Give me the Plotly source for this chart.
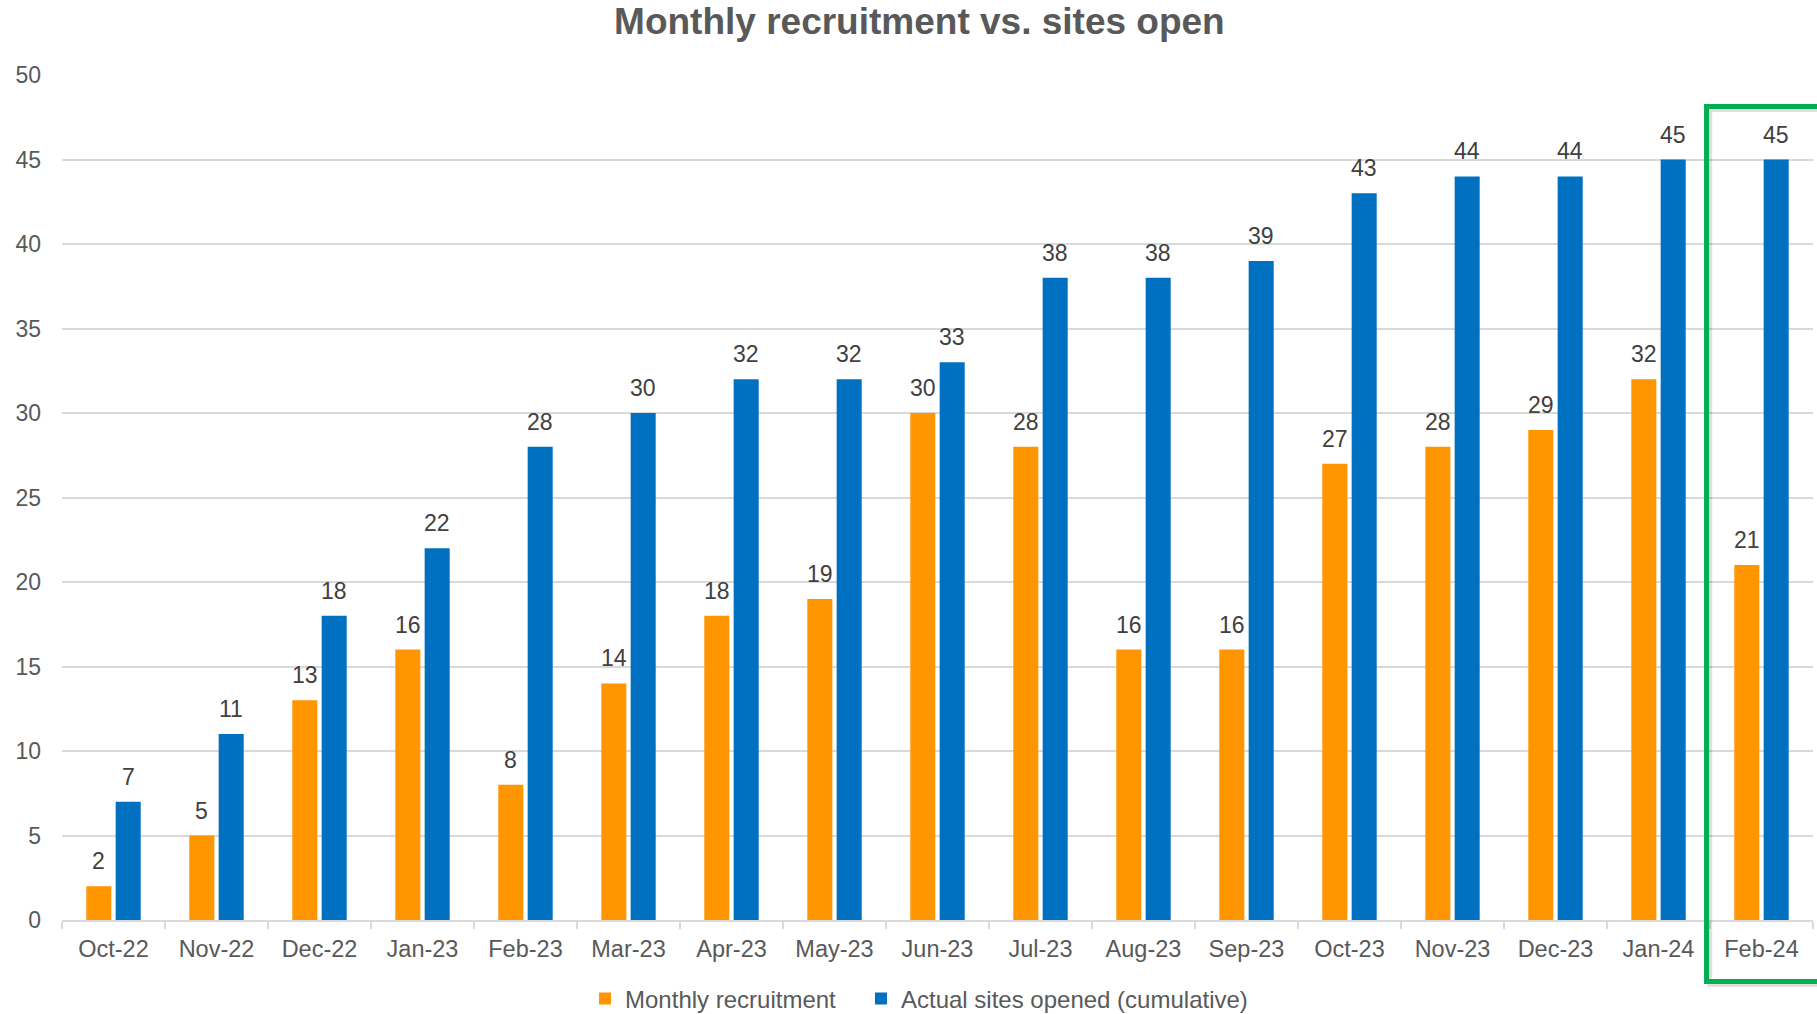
import plotly.graph_objects as go

months = ["Oct-22", "Nov-22", "Dec-22", "Jan-23", "Feb-23", "Mar-23", "Apr-23", "May-23",
          "Jun-23", "Jul-23", "Aug-23", "Sep-23", "Oct-23", "Nov-23", "Dec-23", "Jan-24", "Feb-24"]
monthly_recruitment = [2, 5, 13, 16, 8, 14, 18, 19, 30, 28, 16, 16, 27, 28, 29, 32, 21]
sites_opened = [7, 11, 18, 22, 28, 30, 32, 32, 33, 38, 38, 39, 43, 44, 44, 45, 45]
y_ticks = [0, 5, 10, 15, 20, 25, 30, 35, 40, 45, 50]

FONT = "Arial, 'Liberation Sans', sans-serif"
GRID = "#D9D9D9"
LABEL_COLOR = "#404040"
TEXT_COLOR = "#595959"

W, H = 1817, 1014
M_L, M_R, M_T, M_B = 62, 4, 75, 94
BARGAP = 0.43
BARGROUPGAP = 0.147

fig = go.Figure()
fig.add_trace(go.Bar(
    x=months, y=monthly_recruitment, name="Monthly recruitment",
    marker=dict(color="#FF9600", line=dict(width=0)), legend="legend",
))
fig.add_trace(go.Bar(
    x=months, y=sites_opened, name="Actual sites opened (cumulative)",
    marker=dict(color="#0070C0", line=dict(width=0)), legend="legend2",
))

# value labels above each bar, offset to the centre of the bar within its group
cat_px = (W - M_L - M_R) / len(months)
slot_px = (1 - BARGAP) * cat_px / 2
for series, sign in ((monthly_recruitment, -1), (sites_opened, 1)):
    for m, v in zip(months, series):
        fig.add_annotation(x=m, y=v, xref="x", yref="y", text=str(v), showarrow=False,
                           xanchor="center", yanchor="bottom", xshift=sign * slot_px / 2, yshift=10,
                           font=dict(size=23, color=LABEL_COLOR, family=FONT))

legend_style = dict(orientation="h", xanchor="left", yref="container", y=0.0148, yanchor="middle",
                    font=dict(size=24, color=TEXT_COLOR, family=FONT), itemwidth=30)

fig.update_layout(
    width=W, height=H,
    margin=dict(l=M_L, r=M_R, t=M_T, b=M_B, autoexpand=False),
    paper_bgcolor="white", plot_bgcolor="white",
    barmode="group", bargap=BARGAP, bargroupgap=BARGROUPGAP,
    font=dict(family=FONT, color=TEXT_COLOR, size=23),
    title=dict(text="<b>Monthly recruitment vs. sites open</b>",
               font=dict(size=37, color=TEXT_COLOR, family=FONT),
               xref="container", x=0.506, xanchor="center",
               yref="container", y=0.979, yanchor="middle"),
    showlegend=True,
    legend=dict(x=0.2987, **legend_style),
    legend2=dict(x=0.4563, **legend_style),
    xaxis=dict(showline=True, linecolor=GRID, linewidth=1.5, automargin=False,
               ticks="outside", tickson="boundaries", ticklen=7, tickcolor=GRID, tickwidth=1.5,
               ticklabelstandoff=7,
               tickfont=dict(size=23.5, color=TEXT_COLOR), showgrid=False),
    yaxis=dict(range=[0, 50], tickvals=y_ticks, showgrid=True, gridcolor=GRID, gridwidth=1.5,
               zeroline=False, showline=False, ticks="", ticklabelstandoff=20, automargin=False,
               tickfont=dict(size=23, color=TEXT_COLOR)),
)

# highlight box around latest month (with soft shadow)
fig.add_shape(type="rect", xref="paper", yref="paper",
              x0=0.9410, x1=1.06, y0=-0.0763, y1=0.9592,
              line=dict(color="rgba(0,0,0,0.12)", width=5), layer="above")
fig.add_shape(type="rect", xref="paper", yref="paper",
              x0=0.9392, x1=1.05, y0=-0.0728, y1=0.9627,
              line=dict(color="#00B050", width=5), layer="above")

fig.write_html("out.html", config={"displayModeBar": False},
               post_script="document.body.style.margin='0';")
